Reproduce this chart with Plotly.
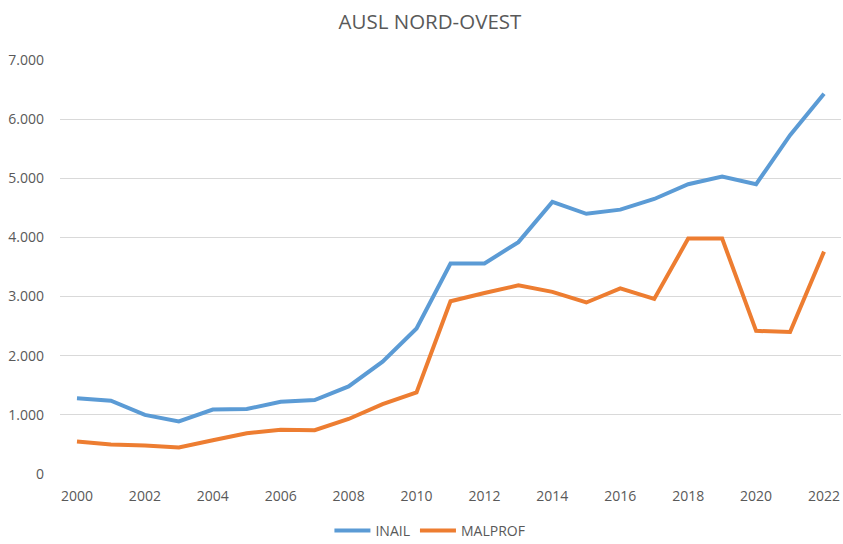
import plotly.graph_objects as go

years = list(range(2000, 2023))
inail = [1280, 1240, 1000, 890, 1090, 1100, 1220, 1250, 1480, 1900, 2460,
         3560, 3560, 3920, 4600, 4400, 4470, 4650, 4900, 5030, 4900, 5730, 6430]
malprof = [550, 500, 480, 450, 570, 690, 750, 740, 930, 1180, 1380,
           2920, 3060, 3190, 3080, 2900, 3140, 2960, 3980, 3980, 2420, 2400, 3760]
y_ticks = [0, 1000, 2000, 3000, 4000, 5000, 6000, 7000]

font_family = "Open Sans, Liberation Sans, sans-serif"
gray = "#595959"

fig = go.Figure()
fig.add_trace(go.Scatter(x=years, y=inail, name="INAIL", mode="lines",
                         line=dict(color="#5B9BD5", width=4)))
fig.add_trace(go.Scatter(x=years, y=malprof, name="MALPROF", mode="lines",
                         line=dict(color="#ED7D31", width=4)))

fig.update_layout(
    width=843, height=544,
    margin=dict(l=60, r=2, t=60, b=70, autoexpand=False),
    paper_bgcolor="white", plot_bgcolor="white",
    separators=",.",
    title=dict(text="AUSL NORD-OVEST", x=0.51, xanchor="center", y=0.96, yanchor="middle",
               font=dict(family=font_family, size=20.5, color=gray)),
    font=dict(family=font_family, size=14, color=gray),
    xaxis=dict(range=[1999.5, 2022.5], tick0=2000, dtick=2, showgrid=False,
               zeroline=False, showline=False, ticks="", ticklabelstandoff=12,
               automargin=False,
               tickfont=dict(family=font_family, size=14, color=gray)),
    yaxis=dict(range=[0, 7000], tickvals=y_ticks, tickformat=",", showgrid=True,
               gridcolor="#D9D9D9", gridwidth=1, zeroline=False, showline=False,
               ticks="", ticklabelstandoff=15, automargin=False,
               tickfont=dict(family=font_family, size=14, color=gray)),
    legend=dict(orientation="h", x=0.51, xref="container", xanchor="center",
                y=0.024, yref="container", yanchor="middle",
                font=dict(family=font_family, size=14, color=gray),
                itemwidth=36, traceorder="normal"),
    showlegend=True,
)

fig.write_html("out.html", config={"displayModeBar": False},
               post_script="document.body.style.margin='0px';")
